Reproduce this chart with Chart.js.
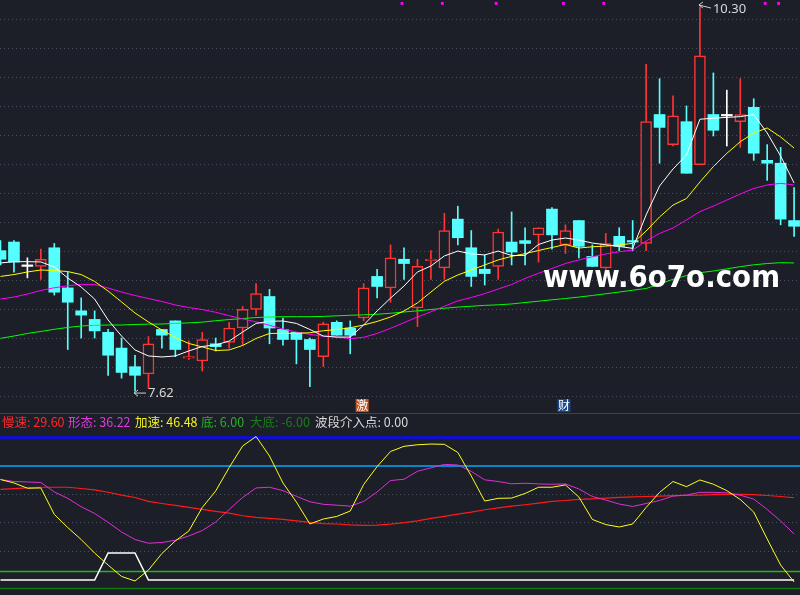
<!DOCTYPE html>
<html>
<head>
<meta charset="utf-8">
<script src="https://cdn.jsdelivr.net/npm/chart.js@4.4.1/dist/chart.umd.min.js"></script>
<style>
  html, body { margin: 0; padding: 0; background: #1c1f27; }
  #wrap { position: relative; width: 800px; height: 595px; overflow: hidden; background: #1c1f27; }
  #main { position: absolute; left: 0; top: 0; }
  #sep { position: absolute; left: 0; top: 413px; width: 800px; height: 1px; background: #3b4250; }
  #legend { position: absolute; left: 0; top: 412px; width: 800px; height: 18px; }
  #legend span { position: absolute; top: 0; line-height: 18px; white-space: nowrap;
                 font: 12.5px "Noto Sans CJK SC", sans-serif; }
  #sub { position: absolute; left: 0; top: 430px; }
</style>
</head>
<body>
<div id="wrap">
  <canvas id="main" width="800" height="413"></canvas>
  <div id="sep"></div>
  <div id="legend"></div>
  <canvas id="sub" width="800" height="165"></canvas>
</div>
<script>
// candles, one per day
var opens  = [8.60,8.66,8.49,8.49,8.62,8.34,8.18,8.12,8.03,7.92, 7.79,7.74,8.05,8.11,7.85,7.83,7.95,7.96,8.06,8.19,
              8.28,8.05,8.03,7.98,7.86,8.10,8.06,8.13,8.42,8.34, 8.54,8.20,8.53,8.48,8.82,8.62,8.47,8.49,8.66,8.67,
              8.71,8.89,8.64,8.81,8.56,8.48,8.70,8.67,8.65,9.55, 9.34,9.50,9.20,9.55,9.54,9.50,9.60,9.23,9.21,8.81];
var highs  = [8.67,8.67,8.55,8.61,8.65,8.45,8.27,8.18,8.05,7.99, 7.87,8.00,8.05,8.11,7.97,8.03,7.99,8.10,8.21,8.37,
              8.33,8.13,8.03,7.99,8.10,8.11,8.11,8.37,8.47,8.64, 8.62,8.54,8.60,8.86,8.91,8.74,8.57,8.75,8.87,8.76,
              8.76,8.90,8.78,8.81,8.64,8.72,8.76,8.81,9.90,9.80, 9.68,9.61,10.30,9.84,9.72,9.80,9.66,9.34,9.32,9.04];
var lows   = [8.50,8.45,8.41,8.40,8.29,7.91,7.99,7.99,7.73,7.71, 7.62,7.64,7.92,7.86,7.84,7.76,7.90,7.92,7.94,8.15,
              7.95,7.94,7.81,7.65,7.79,8.01,7.88,8.11,8.27,8.24, 8.40,8.07,8.40,8.40,8.64,8.35,8.36,8.40,8.50,8.50,
              8.52,8.61,8.58,8.55,8.49,8.47,8.60,8.60,8.60,9.21, 9.33,9.14,9.20,9.40,9.33,9.32,9.23,9.09,8.78,8.70];
var closes = [8.54,8.52,8.49,8.54,8.31,8.24,8.15,8.04,7.87,7.75, 7.73,7.95,8.01,7.91,7.86,7.98,7.93,8.06,8.19,8.30,
              8.06,7.98,7.98,7.91,8.09,8.01,8.01,8.34,8.35,8.55, 8.51,8.49,8.54,8.74,8.69,8.42,8.44,8.73,8.59,8.65,
              8.76,8.71,8.74,8.63,8.49,8.65,8.63,8.66,9.50,9.46, 9.54,9.14,9.96,9.44,9.54,9.55,9.28,9.21,8.82,8.77];

// moving averages
var ma5  = [8.514,8.523,8.523,8.521,8.486,8.409,8.346,8.262,8.116,8.004, 7.907,7.865,7.858,7.865,7.900,7.931,7.942,7.969,8.032,8.092,
            8.107,8.109,8.092,8.050,8.004,7.997,7.997,8.081,8.179,8.269, 8.353,8.451,8.493,8.563,8.597,8.577,8.570,8.597,8.566,8.567,
            8.643,8.674,8.688,8.674,8.653,8.641,8.629,8.616,8.849,9.051, 9.170,9.267,9.517,9.524,9.530,9.535,9.550,9.421,9.260,9.072];
var ma10 = [8.420,8.433,8.451,8.465,8.461,8.454,8.433,8.385,8.318,8.242, 8.165,8.102,8.046,7.994,7.952,7.928,7.903,7.907,7.938,7.987,
            8.022,8.023,8.023,8.027,8.041,8.049,8.062,8.081,8.106,8.137, 8.179,8.235,8.311,8.386,8.430,8.465,8.500,8.535,8.560,8.579,
            8.601,8.622,8.643,8.618,8.627,8.632,8.639,8.651,8.737,8.835, 8.918,8.964,9.079,9.187,9.279,9.360,9.421,9.456,9.393,9.316];
var ma20 = [8.262,8.276,8.297,8.322,8.341,8.355,8.365,8.364,8.339,8.311, 8.287,8.266,8.245,8.221,8.203,8.189,8.170,8.146,8.124,8.103,
            8.079,8.053,8.032,8.016,8.003,7.997,7.986,7.995,8.022,8.058, 8.097,8.137,8.173,8.212,8.249,8.273,8.300,8.332,8.364,8.406,
            8.442,8.476,8.510,8.535,8.557,8.577,8.592,8.604,8.667,8.720, 8.758,8.814,8.872,8.911,8.953,8.995,9.034,9.058,9.070,9.058];
var ma60 = [7.988,8.004,8.022,8.036,8.051,8.064,8.074,8.079,8.081,8.081, 8.085,8.087,8.088,8.092,8.096,8.101,8.111,8.119,8.126,8.133,
            8.137,8.139,8.139,8.139,8.141,8.145,8.149,8.152,8.156,8.163, 8.172,8.180,8.189,8.198,8.206,8.212,8.218,8.222,8.228,8.238,
            8.247,8.257,8.266,8.276,8.287,8.299,8.311,8.324,8.336,8.367, 8.400,8.426,8.446,8.458,8.473,8.488,8.501,8.510,8.516,8.514];

// indicator panel
var slowLine  = [63.6,64.1,64.6,65.1,65.1,65.1,64.2,63.2,61.6,59.5, 57.9,55.2,53.7,52.3,51.0,49.5,48.1,46.9,45.1,44.0,
                 43.2,42.6,41.5,40.5,39.6,39.3,38.7,38.4,38.5,39.2, 40.3,41.5,43.2,44.7,46.2,47.6,49.3,50.6,51.8,52.8,
                 54.0,55.2,55.8,56.6,56.9,57.4,58.0,58.3,58.6,58.9, 59.2,59.4,59.6,59.9,60.1,60.1,59.9,59.3,58.6,57.7];
var shapeLine = [70.5,69.1,68.8,68.4,61.8,57.3,51.4,46.7,40.5,33.7, 28.4,25.8,26.3,27.9,30.9,34.7,40.7,49.5,57.9,64.6,
                 65.1,62.7,58.7,54.9,53.1,52.5,51.8,55.1,61.8,69.8, 70.7,76.3,78.7,81.1,80.7,76.2,70.3,69.1,67.5,67.9,
                 67.4,67.2,67.4,63.9,58.6,56.1,53.3,51.6,53.7,55.8, 58.9,59.6,61.5,61.5,61.2,59.5,56.8,49.5,41.4,32.3];
var accelLine = [70.5,68.1,64.4,64.6,46.0,36.8,28.4,18.9,10.5,2.5, -0.7,7.0,18.6,27.4,34.4,50.9,62.5,78.9,94.0,100.7,
                 87.0,68.1,54.7,39.3,42.8,44.6,48.4,67.0,79.6,90.2, 93.8,94.9,95.4,95.2,89.5,73.0,55.4,57.3,57.5,60.7,
                 65.1,65.1,66.7,58.2,42.5,38.9,37.2,39.3,50.9,61.5, 69.1,65.5,70.2,67.2,62.7,56.5,47.7,28.8,10.5,-1.4];
var entryLine = [0,0,0,0,0,0,0,0,19,19, 19,0,0,0,0,0,0,0,0,0,
                 0,0,0,0,0,0,0,0,0,0, 0,0,0,0,0,0,0,0,0,0,
                 0,0,0,0,0,0,0,0,0,0, 0,0,0,0,0,0,0,0,0,0];
var bottomLevel = 6;
var deepLevel = -6;
var upperLevels = [80, 100];

var legendNames  = ["慢速", "形态", "加速", "底", "大底", "波段介入点"];
var legendValues = ["29.60", "36.22", "46.48", "6.00", "-6.00", "0.00"];
var legendColors = ["#ff2a2a", "#dd3cdd", "#f2f224", "#22b422", "#1b7d1b", "#d8d8d8"];
var legendLeft   = [2, 68, 135, 201, 250, 315];

var markerDays = [30, 33, 37, 42, 45, 57, 58];
var tagDays  = [27, 42];
var tagTexts = ["激", "财"];
var tagBgs   = ["#c0561f", "#18478a"];

var BG = "#1c1f27", RED = "#ff3434", CYAN = "#55ffff";
var X_MIN = -0.037, X_MAX = 59.44;

function xy(arr) { return arr.map(function (v, i) { return {x: i, y: v}; }); }
function candleColor(i) {
  if (closes[i] > opens[i]) return RED;
  if (closes[i] < opens[i]) return CYAN;
  return "#ffffff";
}

// legend row
var lg = document.getElementById("legend");
legendNames.forEach(function (n, k) {
  var s = document.createElement("span");
  s.style.color = legendColors[k];
  s.style.left = legendLeft[k] + "px";
  s.textContent = n + ": " + legendValues[k];
  lg.appendChild(s);
});

function dottedGrid(step, first, height) {
  return function (axis) {
    var span = axis.max - axis.min, t = [];
    for (var p = first; p < height; p += step) t.push({value: axis.max - p * span / height});
    axis.ticks = t;
  };
}

var notes = {
  id: "notes",
  afterDatasetsDraw: function (chart) {
    var ctx = chart.ctx, xs = chart.scales.x, ys = chart.scales.y;
    ctx.save();
    // high / low arrows
    var hi = 0, lo = 0;
    highs.forEach(function (v, i) { if (v > highs[hi]) hi = i; });
    lows.forEach(function (v, i) { if (v < lows[lo]) lo = i; });
    function arrow(i, v, dy, txt) {
      var px = xs.getPixelForValue(i) - 1, py = ys.getPixelForValue(v) + dy;
      ctx.strokeStyle = "#d0d0d0"; ctx.lineWidth = 1;
      ctx.beginPath();
      ctx.moveTo(px, py); ctx.lineTo(px + 12, py + (dy < 0 ? 3 : 0));
      ctx.moveTo(px + 4, py - 3); ctx.lineTo(px, py); ctx.lineTo(px + 4, py + 3);
      ctx.stroke();
      ctx.fillStyle = "#d8d8d8";
      ctx.font = "13px 'Noto Sans', sans-serif";
      ctx.textBaseline = "middle";
      ctx.fillText(txt, px + 14, py + (dy < 0 ? 4 : 0));
    }
    arrow(hi, highs[hi], -2, highs[hi].toFixed(2));
    arrow(lo, lows[lo], 2, lows[lo].toFixed(2));
    // tags under candles
    ctx.font = "12px 'Noto Sans CJK SC', sans-serif";
    ctx.textAlign = "center"; ctx.textBaseline = "middle";
    tagDays.forEach(function (d, k) {
      var px = xs.getPixelForValue(d) - 2;
      ctx.fillStyle = tagBgs[k];
      ctx.fillRect(px - 6, 399, 13, 13);
      ctx.fillStyle = "#ffffff";
      ctx.fillText(tagTexts[k], px + 0.5, 405.5);
    });
    // watermark
    ctx.textAlign = "left"; ctx.textBaseline = "alphabetic";
    ctx.font = "bold 31px 'DejaVu Sans', sans-serif";
    ctx.fillStyle = "#ffffff";
    ctx.fillText("www.6o7o.com", 543, 287, 237);
    ctx.restore();
  }
};

new Chart(document.getElementById("main"), {
  type: "bar",
  data: {
    datasets: [
      { type: "line", data: xy(ma5),  borderColor: "#ffffff", borderWidth: 1, pointRadius: 0, order: 1 },
      { type: "line", data: xy(ma10), borderColor: "#ffff00", borderWidth: 1, pointRadius: 0, order: 2 },
      { type: "line", data: xy(ma20), borderColor: "#ff00ff", borderWidth: 1, pointRadius: 0, order: 3 },
      { type: "line", data: xy(ma60), borderColor: "#00ff00", borderWidth: 1, pointRadius: 0, order: 4 },
      { type: "scatter", data: markerDays.map(function (d) { return {x: d - 0.15, y: 10.325}; }),
        pointStyle: "rect", pointRadius: 2, backgroundColor: "#ff00ff", borderWidth: 0, order: 0 },
      { data: opens.map(function (o, i) { return {x: i, y: [o, closes[i]]}; }),
        backgroundColor: opens.map(function (o, i) { var c = candleColor(i); return c === RED ? BG : c; }),
        borderColor: opens.map(function (o, i) { return candleColor(i); }),
        borderWidth: opens.map(function (o, i) { return candleColor(i) === RED ? 1.5 : 0; }),
        borderSkipped: false, barThickness: 11, minBarLength: 1.5, grouped: false, order: 5 },
      { data: lows.map(function (l, i) { return {x: i, y: [l, highs[i]]}; }),
        backgroundColor: opens.map(function (o, i) { return candleColor(i); }),
        barThickness: 1, grouped: false, order: 6 }
    ]
  },
  options: {
    responsive: false, animation: false,
    layout: { padding: 0, autoPadding: false },
    plugins: { legend: { display: false }, tooltip: { enabled: false } },
    scales: {
      x: { type: "linear", min: X_MIN, max: X_MAX, offset: false, display: false },
      y: { min: 7.467, max: 10.349,
           afterBuildTicks: dottedGrid(29, 19.3, 413),
           ticks: { display: false },
           grid: { color: "#4a505c", lineWidth: 1, drawTicks: false },
           border: { display: false, dash: [1, 3] } }
    }
  },
  plugins: [notes]
});

function flat(v, color, w) {
  return { data: [{x: -1, y: v}, {x: 61, y: v}], borderColor: color, borderWidth: w, pointRadius: 0, order: 9 };
}

new Chart(document.getElementById("sub"), {
  type: "line",
  data: {
    datasets: [
      flat(upperLevels[1], "#0a0aff", 2.5),
      flat(upperLevels[0], "#00a8ff", 1.5),
      flat(bottomLevel, "#22b422", 1.5),
      flat(deepLevel, "#0b7a0b", 1.5),
      { data: xy(entryLine), borderColor: "#ffffff", borderWidth: 1.5, pointRadius: 0, order: 4 },
      { data: xy(slowLine),  borderColor: "#ff1a1a", borderWidth: 1.2, pointRadius: 0, order: 3 },
      { data: xy(shapeLine), borderColor: "#e030d8", borderWidth: 1, pointRadius: 0, order: 2 },
      { data: xy(accelLine), borderColor: "#ffff22", borderWidth: 1, pointRadius: 0, order: 1 }
    ]
  },
  options: {
    responsive: false, animation: false,
    layout: { padding: 0, autoPadding: false },
    plugins: { legend: { display: false }, tooltip: { enabled: false } },
    scales: {
      x: { type: "linear", min: X_MIN, max: X_MAX, display: false },
      y: { min: -10.53, max: 105.26,
           afterBuildTicks: function (axis) { axis.ticks = [20, 40, 60].map(function (v) { return {value: v}; }); },
           ticks: { display: false },
           grid: { color: "#4a505c", lineWidth: 1, drawTicks: false },
           border: { display: false, dash: [1, 3] } }
    }
  }
});
</script>
</body>
</html>
